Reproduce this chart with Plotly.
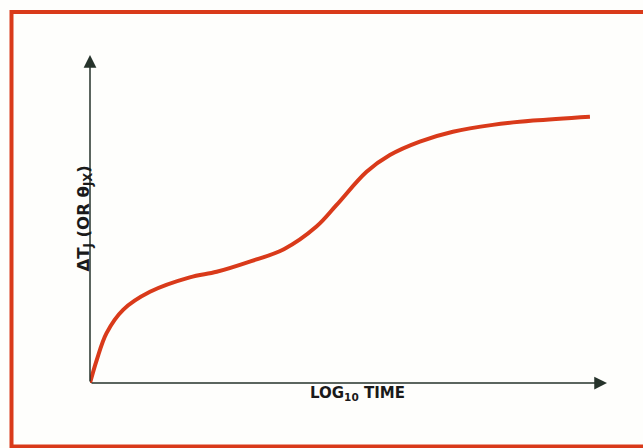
import plotly.graph_objects as go

# curve (x: log10 time, y: delta Tj), arbitrary units 0..10
log_time = [0.0, 0.13, 0.32, 0.64, 1.16, 1.93, 2.45, 3.09, 3.75, 4.38,
            4.77, 5.35, 5.80, 6.38, 7.02, 7.79, 8.57, 9.67]
delta_tj = [0.0, 0.70, 1.52, 2.23, 2.78, 3.22, 3.39, 3.70, 4.08, 4.77,
            5.43, 6.44, 6.95, 7.36, 7.66, 7.87, 8.00, 8.12]

x_label = "LOG<sub>10</sub> TIME"
y_label = "ΔT<sub>J</sub> (OR θ<sub>JX</sub>)"

W, H = 643, 448
L, R, T, B = 90, 36, 55, 65
pw, ph = W - L - R, H - T - B


def px(x):
    return (x - L) / pw


def py(y):
    return (H - B - y) / ph


FONT = "DejaVu Sans, Arial, sans-serif"
AXIS = "#26332b"
RED = "#d93a1a"

fig = go.Figure()
fig.add_trace(go.Scatter(
    x=log_time, y=delta_tj, mode="lines",
    line=dict(color=RED, width=4, shape="spline", smoothing=1.0),
    hoverinfo="skip", showlegend=False,
))

# axes with arrowheads
for tip, tail in [((10, 0), (0, 0)), ((0, 10), (0, 0))]:
    fig.add_annotation(
        x=tip[0], y=tip[1], ax=tail[0], ay=tail[1],
        xref="x", yref="y", axref="x", ayref="y",
        showarrow=True, arrowhead=2, arrowsize=1.7, arrowwidth=1.5,
        arrowcolor=AXIS, text="",
    )

fig.add_annotation(
    x=px(357), y=py(405), xref="paper", yref="paper", showarrow=False,
    text=x_label, font=dict(family=FONT, size=15, color="#1a1a1a", weight="bold"),
)
fig.add_annotation(
    x=px(71), y=py(219), xref="paper", yref="paper", showarrow=False,
    text=y_label, textangle=-90,
    font=dict(family=FONT, size=16.5, color="#1a1a1a", weight="bold"),
)

# red frame (open on the right, as in the reference)
fig.add_shape(
    type="rect", xref="paper", yref="paper",
    x0=px(11.5), x1=px(700), y0=py(446.5), y1=py(12),
    line=dict(color=RED, width=4), layer="below",
)

fig.update_layout(
    width=W, height=H,
    margin=dict(l=L, r=R, t=T, b=B),
    paper_bgcolor="#fefefc", plot_bgcolor="#fefefc",
    xaxis=dict(range=[0, 10], visible=False, fixedrange=True),
    yaxis=dict(range=[0, 10], visible=False, fixedrange=True),
)

fig.write_html(
    "out.html",
    config={"displayModeBar": False},
    post_script="document.body.style.margin='0';document.body.style.overflow='hidden';",
)
